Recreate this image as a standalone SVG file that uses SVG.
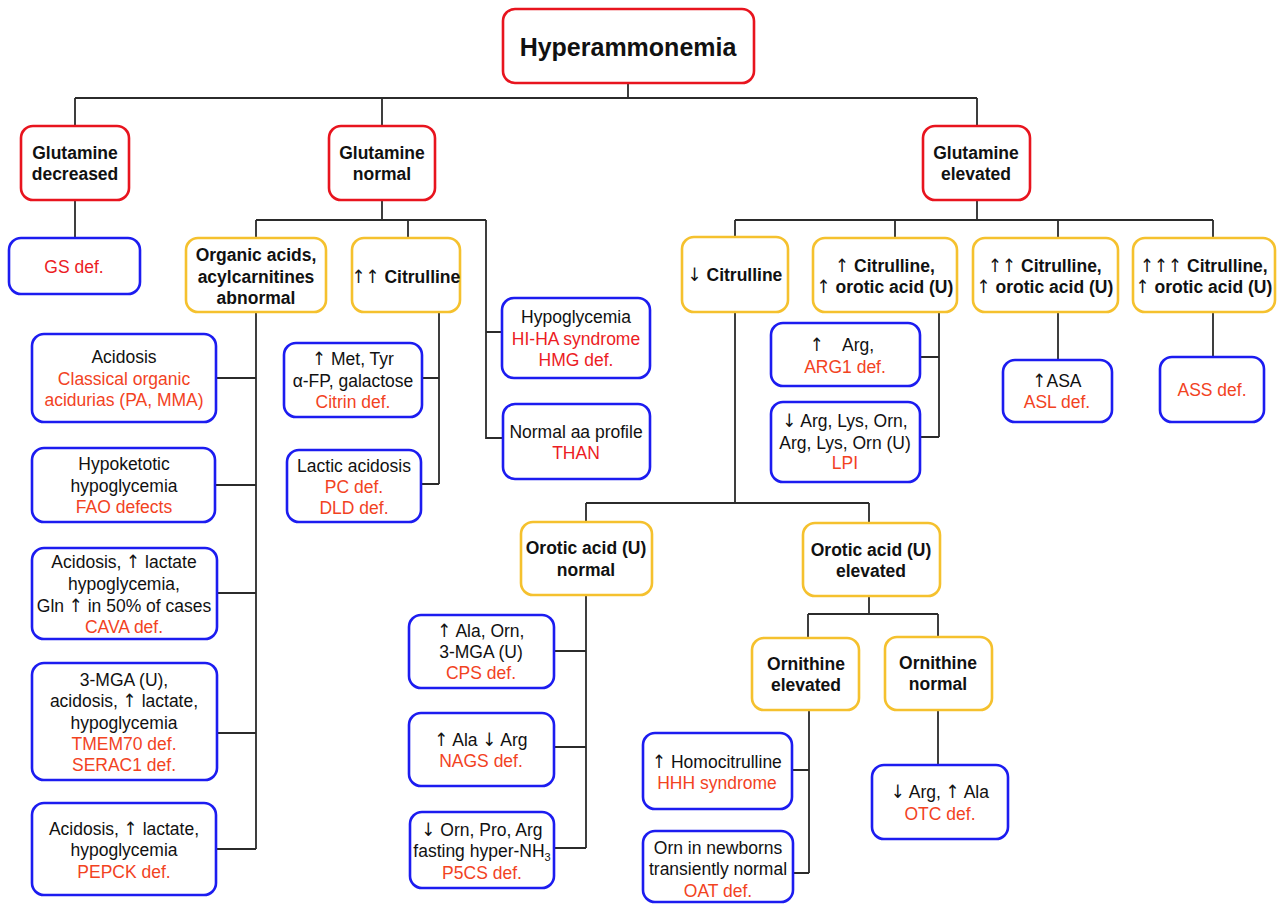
<svg xmlns="http://www.w3.org/2000/svg" width="1278" height="904" viewBox="0 0 1278 904">
<style>
rect{fill:#fff;stroke-width:2.6;rx:12px;ry:12px}
.red rect{stroke:#e8141e}
.yel rect{stroke:#f5c12e}
.blu rect{stroke:#1c1cf0}
text{font-family:"Liberation Sans",Arial,sans-serif;font-size:17.5px;fill:#111;text-anchor:middle}
.b{font-weight:bold}
.a{font-family:"DejaVu Sans Condensed","DejaVu Sans",sans-serif;font-weight:normal;font-size:18.5px}
.r1{fill:#ec1c24}
.r2{fill:#f2431f}
.con path{fill:none;stroke:#2b2b2b;stroke-width:1.8}
</style>
<rect width="1278" height="904" style="fill:#fff;stroke:none;rx:0;ry:0"/>
<g class="con">
<path d="M628,83V98M75,98H977M75,98V126M382,98V126M977,98V126"/>
<path d="M75,200V238"/>
<path d="M382,200V220M256,220H486M256,220V238M408,220V238M486,220V438H503M486,332H502"/>
<path d="M256,312V849M216,378H256M215,485H256M217,593H256M217,733H256M216,849H256"/>
<path d="M439,312V484M422,378H439M421,484H439"/>
<path d="M977,200V220M735,220H1213M735,220V237M895,220V238M1058,220V238M1213,220V238"/>
<path d="M939,312V437M920,357H939M920,437H939"/>
<path d="M1058,312V360M1213,312V357"/>
<path d="M735,312V503M586,503H869M586,503V522M869,503V523"/>
<path d="M586,595V848M554,651H586M554,747H586M554,848H586"/>
<path d="M869,596V614M808,614H938M808,614V638M938,614V637"/>
<path d="M809,710V873M792,770H809M793,873H809M938,710V765"/>
</g>

<g id="root" class="red"><rect x="503" y="9" width="251" height="74"/><text class="b" x="628" y="56" style="font-size:25px">Hyperammonemia</text></g>

<g id="gdec" class="red"><rect x="21" y="126" width="108" height="74"/><text class="b" x="75" y="159">Glutamine</text><text class="b" x="75" y="180">decreased</text></g>
<g id="gnorm" class="red"><rect x="329" y="126" width="106" height="74"/><text class="b" x="382" y="159">Glutamine</text><text class="b" x="382" y="180">normal</text></g>
<g id="gelev" class="red"><rect x="923" y="126" width="107" height="74"/><text class="b" x="976" y="159">Glutamine</text><text class="b" x="976" y="180">elevated</text></g>

<g id="gs" class="blu"><rect x="9" y="238" width="131" height="56"/><text class="r1" x="74" y="273">GS def.</text></g>

<g id="orgac" class="yel"><rect x="186" y="238" width="140" height="74"/><text class="b" x="256" y="261">Organic acids,</text><text class="b" x="256" y="283">acylcarnitines</text><text class="b" x="256" y="304">abnormal</text></g>
<g id="cit2" class="yel"><rect x="352" y="238" width="108" height="74"/><text class="b" x="406" y="283"><tspan class="a">↑↑</tspan> Citrulline</text></g>

<g id="citdown" class="yel"><rect x="682" y="237" width="106" height="75"/><text class="b" x="735" y="281"><tspan class="a">↓</tspan> Citrulline</text></g>
<g id="cit1" class="yel"><rect x="813" y="238" width="144" height="74"/><text class="b" x="885" y="272"><tspan class="a">↑</tspan> Citrulline,</text><text class="b" x="885" y="293"><tspan class="a">↑</tspan> orotic acid (U)</text></g>
<g id="cit2b" class="yel"><rect x="973" y="238" width="145" height="74"/><text class="b" x="1045" y="272"><tspan class="a">↑↑</tspan> Citrulline,</text><text class="b" x="1045" y="293"><tspan class="a">↑</tspan> orotic acid (U)</text></g>
<g id="cit3" class="yel"><rect x="1133" y="238" width="142" height="74"/><text class="b" x="1204" y="272"><tspan class="a">↑↑↑</tspan> Citrulline,</text><text class="b" x="1204" y="293"><tspan class="a">↑</tspan> orotic acid (U)</text></g>

<g id="acid" class="blu"><rect x="32" y="334" width="184" height="88"/><text x="124" y="363">Acidosis</text><text class="r2" x="124" y="385">Classical organic</text><text class="r2" x="124" y="406">acidurias (PA, MMA)</text></g>
<g id="fao" class="blu"><rect x="32" y="448" width="183" height="74"/><text x="124" y="470">Hypoketotic</text><text x="124" y="492">hypoglycemia</text><text class="r2" x="124" y="513">FAO defects</text></g>
<g id="cava" class="blu"><rect x="32" y="548" width="185" height="91"/><text x="124" y="568">Acidosis, <tspan class="a">↑</tspan> lactate</text><text x="124" y="590">hypoglycemia,</text><text x="124" y="612">Gln <tspan class="a">↑</tspan> in 50% of cases</text><text class="r2" x="124" y="633">CAVA def.</text></g>
<g id="tmem" class="blu"><rect x="32" y="663" width="185" height="117"/><text x="124" y="686">3-MGA (U),</text><text x="124" y="707">acidosis, <tspan class="a">↑</tspan> lactate,</text><text x="124" y="729">hypoglycemia</text><text class="r2" x="124" y="750">TMEM70 def.</text><text class="r2" x="124" y="771">SERAC1 def.</text></g>
<g id="pepck" class="blu"><rect x="32" y="803" width="184" height="92"/><text x="124" y="835">Acidosis, <tspan class="a">↑</tspan> lactate,</text><text x="124" y="856">hypoglycemia</text><text class="r2" x="124" y="878">PEPCK def.</text></g>

<g id="citrin" class="blu"><rect x="284" y="343" width="138" height="74"/><text x="353" y="365"><tspan class="a">↑</tspan> Met, Tyr</text><text x="353" y="387">α-FP, galactose</text><text class="r2" x="353" y="408">Citrin def.</text></g>
<g id="lactic" class="blu"><rect x="287" y="450" width="134" height="72"/><text x="354" y="472">Lactic acidosis</text><text class="r2" x="354" y="493">PC def.</text><text class="r2" x="354" y="514">DLD def.</text></g>

<g id="hiha" class="blu"><rect x="502" y="298" width="148" height="80"/><text x="576" y="323">Hypoglycemia</text><text class="r1" x="576" y="345">HI-HA syndrome</text><text class="r1" x="576" y="366">HMG def.</text></g>
<g id="than" class="blu"><rect x="503" y="404" width="147" height="75"/><text x="576" y="438">Normal aa profile</text><text class="r1" x="576" y="459">THAN</text></g>

<g id="arg1" class="blu"><rect x="771" y="323" width="149" height="63"/><text class="a" x="817" y="351">↑</text><text x="842" y="351" style="text-anchor:start">Arg,</text><text class="r2" x="845" y="373">ARG1 def.</text></g>
<g id="lpi" class="blu"><rect x="771" y="402" width="149" height="80"/><text x="845" y="427"><tspan class="a">↓</tspan> Arg, Lys, Orn,</text><text x="845" y="449">Arg, Lys, Orn (U)</text><text class="r2" x="845" y="469">LPI</text></g>
<g id="asl" class="blu"><rect x="1003" y="360" width="109" height="62"/><text x="1057" y="387"><tspan class="a">↑</tspan>ASA</text><text class="r2" x="1057" y="408">ASL def.</text></g>
<g id="ass" class="blu"><rect x="1160" y="357" width="104" height="65"/><text class="r2" x="1212" y="396">ASS def.</text></g>

<g id="oronorm" class="yel"><rect x="521" y="522" width="131" height="73"/><text class="b" x="586" y="554">Orotic acid (U)</text><text class="b" x="586" y="576">normal</text></g>
<g id="oroelev" class="yel"><rect x="803" y="523" width="137" height="73"/><text class="b" x="871" y="556">Orotic acid (U)</text><text class="b" x="871" y="577">elevated</text></g>

<g id="cps" class="blu"><rect x="409" y="615" width="145" height="73"/><text x="481" y="637"><tspan class="a">↑</tspan> Ala, Orn,</text><text x="481" y="658">3-MGA (U)</text><text class="r2" x="481" y="679">CPS def.</text></g>
<g id="nags" class="blu"><rect x="409" y="713" width="145" height="73"/><text x="481" y="746"><tspan class="a">↑</tspan> Ala <tspan class="a">↓</tspan> Arg</text><text class="r2" x="481" y="767">NAGS def.</text></g>
<g id="p5cs" class="blu"><rect x="410" y="812" width="144" height="76"/><text x="482" y="836"><tspan class="a">↓</tspan> Orn, Pro, Arg</text><text x="482" y="857">fasting hyper-NH<tspan style="font-size:11px" dy="4">3</tspan></text><text class="r2" x="482" y="879">P5CS def.</text></g>

<g id="ornelev" class="yel"><rect x="752" y="638" width="107" height="72"/><text class="b" x="806" y="670">Ornithine</text><text class="b" x="806" y="691">elevated</text></g>
<g id="ornnorm" class="yel"><rect x="885" y="637" width="107" height="73"/><text class="b" x="938" y="669">Ornithine</text><text class="b" x="938" y="690">normal</text></g>

<g id="hhh" class="blu"><rect x="643" y="733" width="149" height="76"/><text x="717" y="768"><tspan class="a">↑</tspan> Homocitrulline</text><text class="r2" x="717" y="789">HHH syndrome</text></g>
<g id="oat" class="blu"><rect x="643" y="831" width="150" height="71"/><text x="718" y="854">Orn in newborns</text><text x="718" y="875">transiently normal</text><text class="r2" x="718" y="897">OAT def.</text></g>
<g id="otc" class="blu"><rect x="872" y="765" width="136" height="74"/><text x="940" y="798"><tspan class="a">↓</tspan> Arg, <tspan class="a">↑</tspan> Ala</text><text class="r2" x="940" y="820">OTC def.</text></g>
</svg>
